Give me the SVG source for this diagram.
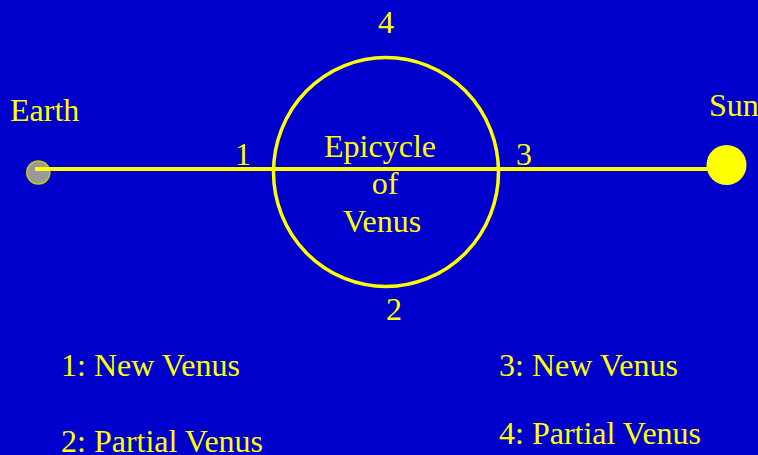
<svg xmlns="http://www.w3.org/2000/svg" width="758" height="455" viewBox="0 0 758 455">
<style>
text{font-family:"Liberation Serif","Times New Roman",serif;font-size:32px;fill:#ffff00}
.c{text-anchor:middle}
</style>
<rect width="758" height="455" fill="#0000cc"/>
<g id="connectors">
<line x1="35" y1="169" x2="727" y2="169" stroke="#ffff00" stroke-width="4"/>
</g>
<g id="epicycle">
<ellipse cx="386" cy="172" rx="112.5" ry="114.5" fill="none" stroke="#ffff00" stroke-width="3.5"/>
<text class="c" x="380" y="157">Epicycle</text>
<text class="c" x="385" y="194">of</text>
<text class="c" x="382" y="232">Venus</text>
</g>
<g id="earth">
<circle cx="38.3" cy="172.5" r="11.5" fill="#999999" stroke="#cccc00" stroke-width="1.5"/>
<line x1="35" y1="169" x2="50" y2="169" stroke="#ffff00" stroke-width="4"/>
<text x="10" y="121">Earth</text>
</g>
<g id="sun">
<circle cx="726.5" cy="165" r="20" fill="#ffff00"/>
<text x="709" y="116">Sun</text>
</g>
<g id="labels">
<text class="c" x="386" y="33">4</text>
<text class="c" x="394" y="320">2</text>
<text class="c" x="243" y="165">1</text>
<text class="c" x="524" y="165">3</text>
</g>
<g id="legend">
<text x="61" y="376">1: New Venus</text>
<text x="61" y="452">2: Partial Venus</text>
<text x="499" y="376">3: New Venus</text>
<text x="499" y="444">4: Partial Venus</text>
</g>
</svg>
